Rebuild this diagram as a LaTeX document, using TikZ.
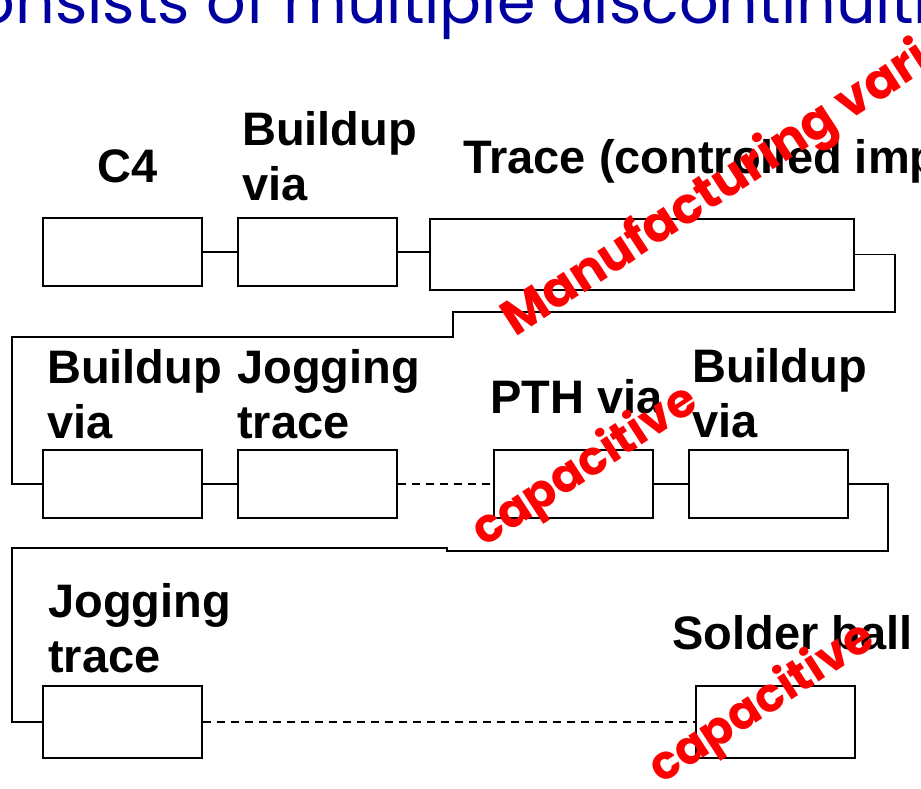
\documentclass[tikz,border=0pt]{standalone}
\usepackage{fontspec}
\setmainfont{Liberation Sans}
\newfontfamily\notefont{Poppins}
\newfontfamily\titlefont{Poppins}
\usetikzlibrary{positioning}
\definecolor{slideblue}{RGB}{0,0,160}

\begin{document}
\begin{tikzpicture}
	[
	x = 1pt, y = -1pt,
	part/.style = {draw, line width=1.8pt, minimum width=159pt, minimum height=68pt, inner sep=0pt},
	lbl/.style  = {anchor=base west, align=left, inner sep=0pt, font=\fontsize{47}{55}\selectfont\bfseries},
	note/.style = {anchor=base west, inner sep=0pt, rotate=33, text=red, font=\fontsize{50}{60}\selectfont\notefont\bfseries},
	wire/.style = {line width=1.5pt},
	weak/.style = {line width=1.3pt, dash pattern=on 8pt off 6pt}
	]
	\useasboundingbox (0,0) rectangle (921,788);
	% slide title, cut by the frame
	\node [anchor=base west, inner sep=0pt, text=slideblue,
	font=\fontsize{62}{70}\selectfont\titlefont] (title) at (-62,23)
	{consists of multiple discontinuities};
	% first row
	\node [part] (c4) at (122.5,252) {};
	\node [part, right=34pt of c4] (via1) {};
	\node [part, minimum width=424pt, minimum height=71pt] (trace) at (642,254.5) {};
	% second row
	\node [part] (via2) at (122.5,484) {};
	\node [part, right=34pt of via2] (jog1) {};
	\node [part] (pth) at (573.5,484) {};
	\node [part, right=34pt of pth] (via3) {};
	% third row
	\node [part, minimum height=72pt] (jog2) at (122.5,722) {};
	\node [part, minimum height=72pt] (ball) at (775.5,722) {};
	% labels (anchored at the last line)
	\node [lbl] (l-c4)    at (97,182)  {C4};
	\node [lbl] (l-via1)  at (242,200) {Buildup\\via};
	\node [lbl] (l-trace) at (463,173) {Trace (controlled impedance)};
	\node [lbl] (l-via2)  at (47,438)  {Buildup\\via};
	\node [lbl] (l-jog1)  at (237,438) {Jogging\\trace};
	\node [lbl] (l-pth)   at (490,413) {PTH via};
	\node [lbl] (l-via3)  at (692,437) {Buildup\\via};
	\node [lbl] (l-jog2)  at (48,672)  {Jogging\\trace};
	\node [lbl] (l-ball)  at (672,649) {Solder ball};
	% bends of the wiring
	\coordinate (ra) at (895,312);
	\coordinate (rb) at (453,337);
	\coordinate (rc) at (12,484);
	\coordinate (sa) at (888,551);
	\coordinate (sb) at (447,548);
	\coordinate (sc) at (12,722);
	\draw [wire] (c4) -- (via1);
	\draw [wire] (via1) -- (trace.west |- via1);
	\draw [wire] (trace.east) -| (ra) -| (rb) -| (rc) -- (via2.west);
	\draw [wire] (via2) -- (jog1);
	\draw [weak] (jog1) -- (pth);
	\draw [wire] (pth) -- (via3);
	\draw [wire] (via3.east) -| (sa) -| (sb) -| (sc) -- (jog2.west);
	\draw [weak] (jog2) -- (ball);
	% red remarks
	\node [note] (mfg)  at (515,338) {Manufacturing variation};
	\node [note, font=\fontsize{47}{56}\selectfont\notefont\bfseries] (cap1) at (484,548) {capacitive};
	\node [note, font=\fontsize{47}{56}\selectfont\notefont\bfseries] (cap2) at (661,785) {capacitive};
\end{tikzpicture}
\end{document}
